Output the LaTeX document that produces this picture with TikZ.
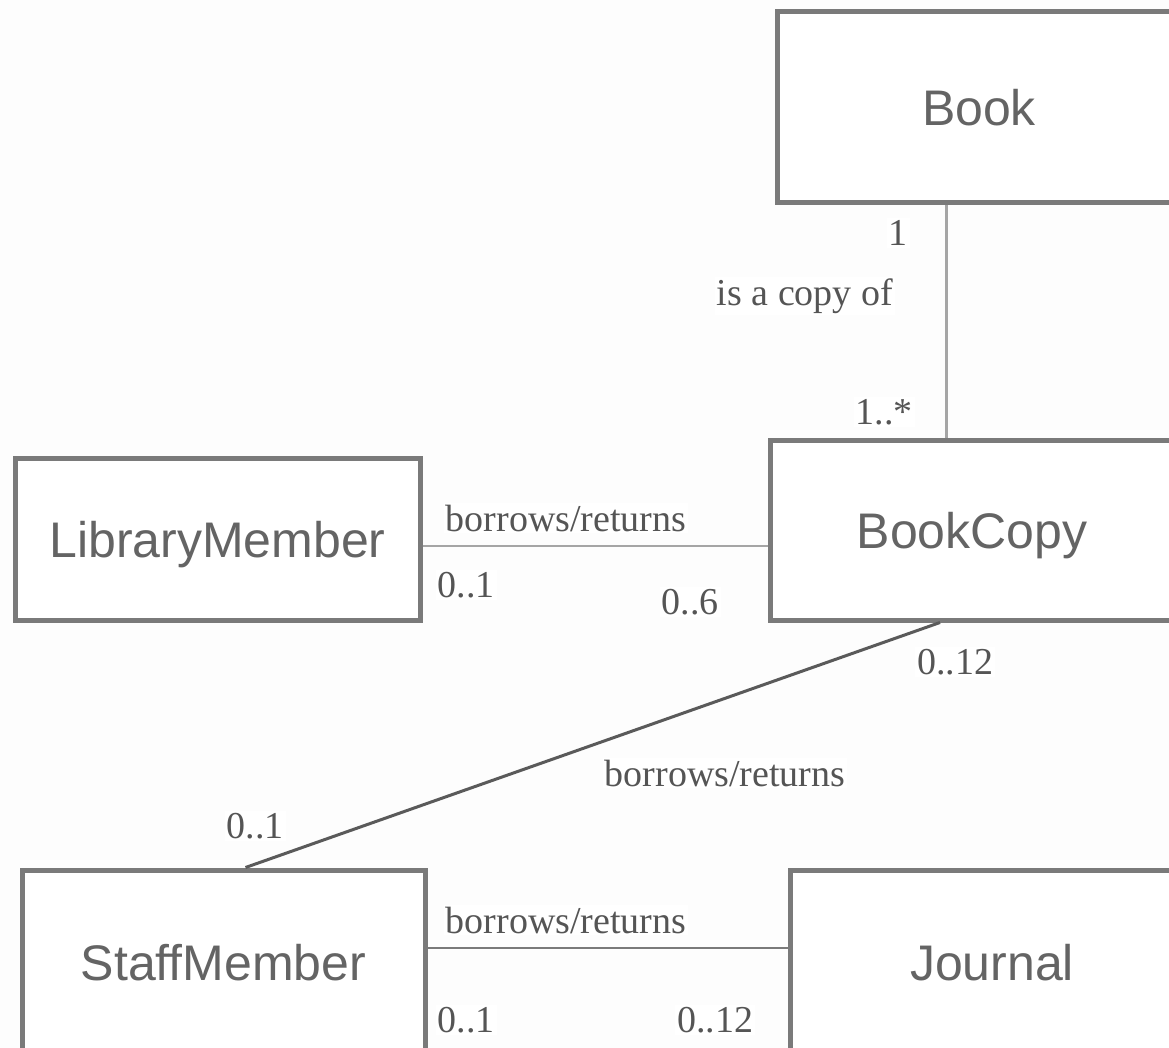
\documentclass[tikz,border=0pt]{standalone}
\usepackage{fontspec}
\setmainfont{Liberation Serif}
\setsansfont{Liberation Sans}
\definecolor{boxgray}{RGB}{122,122,122}
\definecolor{namegray}{RGB}{100,100,100}
\definecolor{linegray}{RGB}{165,165,165}
\definecolor{diaggray}{RGB}{90,90,90}
\definecolor{labelgray}{RGB}{85,85,85}
\definecolor{pagegray}{RGB}{253,253,253}
\begin{document}
\begin{tikzpicture}[x=1pt, y=-1pt,
	class/.style={rectangle, draw=boxgray, line width=5pt, fill=white, text=namegray,
		font=\sffamily\fontsize{50}{60}\selectfont, text height=36pt, text depth=0pt},
	mult/.style={fill=white, text=labelgray, inner sep=2pt,
		font=\fontsize{38}{45}\selectfont}]
	\fill [pagegray] (0,0) rectangle (1169,1048);
	\clip (0,0) rectangle (1169,1048);
	
	\node (book) at (979,107.5) [class, minimum width=404, minimum height=191]{Book};
	\node (copy) at (972,530) [class, minimum width=404, minimum height=180]{BookCopy};
	\node (lib) at (217.5,539) [class, minimum width=405, minimum height=162]{LibraryMember};
	\node (staff) at (223.5,962) [class, minimum width=403, minimum height=184]{StaffMember};
	\node (journal) at (992,962) [class, minimum width=404, minimum height=184]{Journal};
	
	\node (m1) at (898,233) [mult]{1};
	\node (r1) at (805,296) [mult]{is a copy of};
	\node (m2) at (884,412) [mult]{1..*};
	\node (r2) at (566,518) [mult]{borrows/returns};
	\node (m3) at (466,585) [mult]{0..1};
	\node (m4) at (690,602) [mult]{0..6};
	\node (m5) at (955,662) [mult]{0..12};
	\node (r3) at (725,773) [mult]{borrows/returns};
	\node (m6) at (255,826) [mult]{0..1};
	\node (r4) at (566,920) [mult]{borrows/returns};
	\node (m7) at (466,1020) [mult]{0..1};
	\node (m8) at (715,1020) [mult]{0..12};
	
	\draw [linegray, line width=3pt] ([xshift=-33pt]book.south) -- ([xshift=-26pt]copy.north);
	\draw [linegray, line width=2.5pt] ([yshift=-7pt]lib.east) -- ([yshift=-16pt]copy.west);
	\draw [diaggray, line width=3pt] ([xshift=-32pt]copy.south) -- ([xshift=22pt]staff.north);
	\draw [boxgray, line width=2.5pt] ([yshift=14pt]staff.east) -- ([yshift=14pt]journal.west);
	
	\end{tikzpicture}
\end{document}
